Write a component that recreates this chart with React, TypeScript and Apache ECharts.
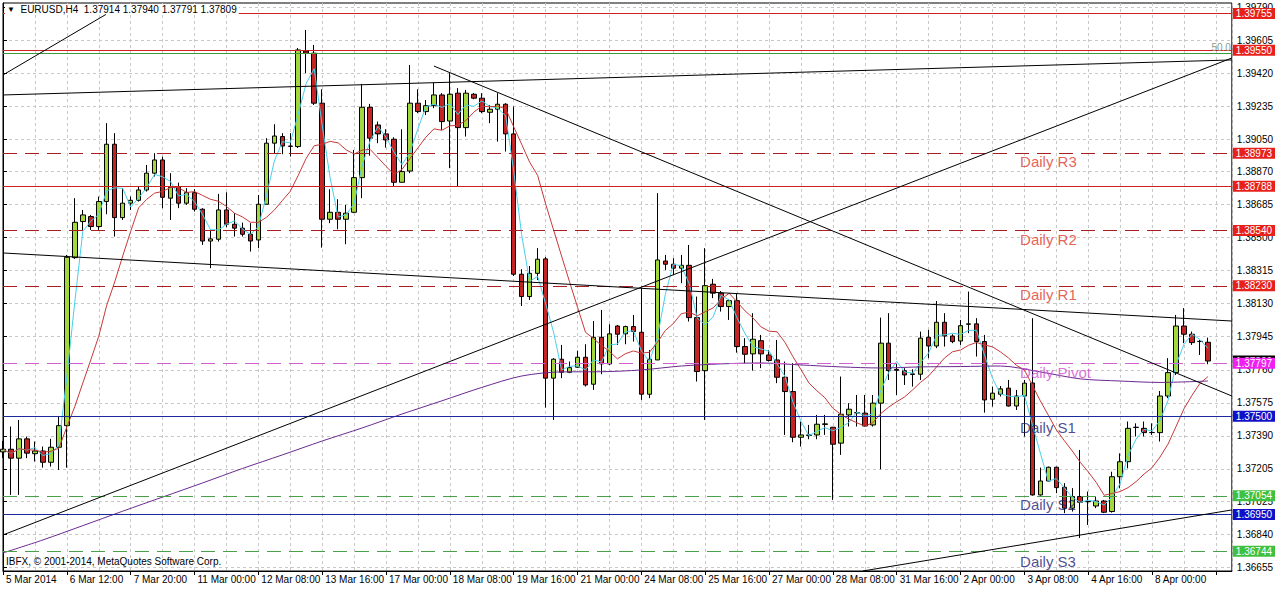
import React, { useEffect, useRef } from 'react';
import * as echarts from 'echarts';

const timeLabels = ['5 Mar 2014','6 Mar 12:00','7 Mar 20:00','11 Mar 00:00','12 Mar 08:00','13 Mar 16:00','17 Mar 00:00','18 Mar 08:00','19 Mar 16:00','21 Mar 00:00','24 Mar 08:00','25 Mar 16:00','27 Mar 00:00','28 Mar 08:00','31 Mar 16:00','2 Apr 00:00','3 Apr 08:00','4 Apr 16:00','8 Apr 00:00'];

const priceTicks = [1.36655,1.36840,1.37025,1.37205,1.37390,1.37575,1.37760,1.37945,1.38130,1.38315,1.38500,1.38685,1.38870,1.39050,1.39235,1.39420,1.39605,1.39790];

const opens = [1.37300,1.37315,1.37265,1.37373,1.37290,1.37305,1.37242,1.37326,1.37447,1.38388,1.38590,1.38618,1.38562,1.38702,1.39023,1.38612,1.38693,1.38709,1.38767,1.38861,1.38935,1.38721,1.38786,1.38693,1.38752,1.38659,1.38481,1.38491,1.38655,1.38575,1.38553,1.38519,1.38487,1.38687,1.39029,1.39066,1.39013,1.39010,1.39545,1.39533,1.39253,1.38603,1.38642,1.38603,1.38642,1.38836,1.39230,1.39131,1.39081,1.39051,1.38810,1.38873,1.39253,1.39206,1.39239,1.39299,1.39153,1.39309,1.39116,1.39303,1.39281,1.39202,1.39219,1.39247,1.39081,1.38295,1.38170,1.38300,1.38381,1.37713,1.37819,1.37746,1.37774,1.37830,1.37679,1.37942,1.37793,1.38005,1.37961,1.38002,1.37970,1.37623,1.37815,1.38369,1.38351,1.38329,1.38345,1.38052,1.37755,1.38239,1.38189,1.38114,1.38147,1.37890,1.37849,1.37923,1.37843,1.37815,1.37718,1.37638,1.37382,1.37392,1.37395,1.37454,1.37438,1.37349,1.37507,1.37518,1.37517,1.37451,1.37573,1.37909,1.37762,1.37755,1.37737,1.37735,1.37942,1.37893,1.38026,1.37949,1.37921,1.38015,1.38017,1.37918,1.37595,1.37623,1.37657,1.37557,1.37613,1.37686,1.37059,1.37137,1.37214,1.37102,1.36985,1.37050,1.37023,1.36997,1.37025,1.36966,1.37161,1.37245,1.37437,1.37432,1.37409,1.37408,1.37613,1.37744,1.38005,1.37959,1.37919,1.37914];

const closes = [1.37315,1.37265,1.37373,1.37293,1.37305,1.37242,1.37326,1.37447,1.38390,1.38586,1.38627,1.38562,1.38702,1.39023,1.38612,1.38693,1.38709,1.38767,1.38861,1.38935,1.38726,1.38782,1.38693,1.38752,1.38659,1.38481,1.38493,1.38655,1.38575,1.38553,1.38519,1.38481,1.38687,1.39029,1.39069,1.39013,1.39011,1.39551,1.39533,1.39253,1.38603,1.38642,1.38603,1.38637,1.38836,1.39230,1.39057,1.39081,1.39047,1.38810,1.38870,1.39253,1.39206,1.39239,1.39299,1.39150,1.39303,1.39116,1.39309,1.39281,1.39206,1.39219,1.39247,1.39081,1.38295,1.38170,1.38300,1.38379,1.37713,1.37819,1.37746,1.37772,1.37830,1.37675,1.37942,1.37793,1.37961,1.37959,1.38002,1.37974,1.37623,1.37819,1.38375,1.38351,1.38329,1.38345,1.38052,1.37750,1.38231,1.38189,1.38114,1.38147,1.37890,1.37847,1.37931,1.37849,1.37812,1.37718,1.37638,1.37382,1.37395,1.37395,1.37455,1.37457,1.37343,1.37511,1.37539,1.37520,1.37445,1.37573,1.37909,1.37755,1.37757,1.37731,1.37734,1.37937,1.37893,1.38026,1.37949,1.37918,1.38007,1.38017,1.37918,1.37591,1.37629,1.37653,1.37557,1.37613,1.37685,1.37059,1.37137,1.37214,1.37100,1.36985,1.37050,1.37018,1.37021,1.37025,1.36962,1.37161,1.37245,1.37432,1.37438,1.37408,1.37408,1.37613,1.37744,1.38005,1.37959,1.37912,1.37918,1.37809];

const lows = [1.37266,1.37059,1.37059,1.37265,1.37246,1.37212,1.37218,1.37199,1.37212,1.38381,1.38543,1.38543,1.38543,1.38631,1.38506,1.38599,1.38655,1.38702,1.38758,1.38842,1.38665,1.38599,1.38665,1.38683,1.38646,1.38459,1.38329,1.38478,1.38558,1.38506,1.38506,1.38422,1.38441,1.38687,1.38973,1.38967,1.38954,1.39002,1.39421,1.39243,1.38444,1.38581,1.38547,1.38463,1.38637,1.38721,1.38959,1.39029,1.39004,1.38786,1.38810,1.38861,1.39197,1.39187,1.39225,1.39103,1.38889,1.38786,1.39066,1.39275,1.39197,1.39141,1.39038,1.38982,1.38285,1.38117,1.38151,1.38263,1.37548,1.37479,1.37713,1.37741,1.37772,1.37666,1.37647,1.37735,1.37787,1.37899,1.37903,1.37918,1.37591,1.37601,1.37815,1.38319,1.38291,1.38245,1.38030,1.37694,1.37479,1.38161,1.38086,1.38039,1.37856,1.37797,1.37755,1.37769,1.37806,1.37685,1.37395,1.37354,1.37330,1.37371,1.37371,1.37395,1.37031,1.37283,1.37442,1.37442,1.37442,1.37442,1.37203,1.37703,1.37619,1.37675,1.37666,1.37703,1.37825,1.37881,1.37890,1.37909,1.37899,1.37965,1.37834,1.37520,1.37554,1.37610,1.37554,1.37535,1.37386,1.37055,1.37055,1.37134,1.37069,1.36957,1.36966,1.36818,1.36891,1.36985,1.36957,1.36960,1.37096,1.37208,1.37386,1.37386,1.37395,1.37358,1.37601,1.37731,1.37909,1.37899,1.37843,1.37791];

const highs = [1.37361,1.37442,1.37479,1.37386,1.37358,1.37330,1.37373,1.37501,1.38403,1.38721,1.38655,1.38627,1.38730,1.39141,1.39085,1.38777,1.38730,1.38789,1.38907,1.38973,1.38954,1.38861,1.38808,1.38777,1.38771,1.38665,1.38543,1.38745,1.38754,1.38637,1.38584,1.38581,1.38739,1.39057,1.39135,1.39085,1.39085,1.39562,1.39663,1.39579,1.39331,1.38771,1.38715,1.38683,1.38991,1.39361,1.39249,1.39150,1.39107,1.39062,1.39107,1.39467,1.39331,1.39271,1.39368,1.39309,1.39421,1.39337,1.39327,1.39309,1.39309,1.39243,1.39309,1.39253,1.39234,1.38323,1.38341,1.38441,1.38392,1.37825,1.37899,1.37806,1.37867,1.37903,1.38033,1.38095,1.38015,1.38011,1.38007,1.38067,1.38217,1.37871,1.38749,1.38403,1.38385,1.38403,1.38459,1.38170,1.38441,1.38269,1.38201,1.38155,1.38189,1.37937,1.38077,1.37955,1.37871,1.37927,1.37806,1.37797,1.37470,1.37451,1.37507,1.37507,1.37440,1.37722,1.37573,1.37619,1.37619,1.37619,1.38052,1.38077,1.37797,1.37769,1.37763,1.37974,1.37983,1.38145,1.38077,1.37959,1.38039,1.38198,1.38049,1.37955,1.37666,1.37669,1.37703,1.37647,1.37703,1.38049,1.37212,1.37218,1.37218,1.37125,1.37097,1.37311,1.37078,1.37050,1.37031,1.37189,1.37292,1.37470,1.37460,1.37470,1.37460,1.37641,1.37825,1.38067,1.38105,1.37974,1.37927,1.37940];

// slow moving average (bar index, price)
const slowMaIdx = [0,5,10,15,20,25,30,35,40,45,50,55,60,65,70,75,80,85,90,95,100,105,110,115,120,125,130,135,140,145,151];
const slowMaVals = [1.36734,1.36807,1.36887,1.36968,1.37047,1.37126,1.37207,1.37283,1.37361,1.37434,1.37512,1.37586,1.37661,1.37725,1.37748,1.37749,1.37759,1.37781,1.37793,1.37798,1.37787,1.37776,1.37770,1.37776,1.37778,1.37781,1.37748,1.37709,1.37697,1.37689,1.37697];

const levelPrices = [1.39755,1.39550,1.38973,1.38788,1.38540,1.38230,1.37809,1.37797,1.37500,1.37054,1.36950,1.36744];
const levelKinds = ['redSolid','redSolid','redDash','redSolid','redDash','redDash','bid','pivot','blueSolid','greenDash','blueSolid','greenDash'];
const fibPrice = 1.39533;

const pivotNames = ['Daily R3','Daily R2','Daily R1','Daily Pivot','Daily S1','Daily S2','Daily S3'];
const pivotTextPrices = [1.38929,1.38487,1.38179,1.37742,1.37434,1.37003,1.36689];
const pivotTextBar = 127.4;

const trendLines = [
  [[0, 1.39411], [12.9, 1.39750]],
  [[0, 1.39299], [154, 1.39495]],
  [[54, 1.39461], [154, 1.37613]],
  [[0, 1.36835], [154, 1.39506]],
  [[0, 1.38414], [154, 1.38033]],
  [[107.75, 1.36633], [154, 1.36975]],
];

const FONT = 'Liberation Sans, Arial, sans-serif';

function sma(vals: number[], n: number) {
  return vals.map((_, i) => {
    const s = Math.max(0, i - n + 1);
    const arr = vals.slice(s, i + 1);
    return arr.reduce((a, b) => a + b, 0) / arr.length;
  });
}

const kindStyle: Record<string, any> = {
  redSolid: { line: { color: '#cc2222', type: 'solid' }, bg: '#e8201a', fg: '#fff' },
  redDash: { line: { color: '#a82020', type: [14, 8] }, bg: '#e8201a', fg: '#fff' },
  pivot: { line: { color: '#d060d0', type: [14, 8] }, bg: '#f020f0', fg: '#fff' },
  blueSolid: { line: { color: '#1a2a9a', type: 'solid' }, bg: '#1010c8', fg: '#fff' },
  greenDash: { line: { color: '#4aa04a', type: [14, 8] }, bg: '#40c040', fg: '#fff' },
  bid: { line: { color: 'rgba(0,0,0,0)', type: 'solid' }, bg: '#000', fg: '#fff' },
};

function pivotColor(name: string) {
  if (name.indexOf('Daily R') === 0) return '#e03a2a';
  if (name === 'Daily Pivot') return '#d050d0';
  return '#1c1c78';
}

export default function App() {
  const ref = useRef<HTMLDivElement>(null);
  useEffect(() => {
    const chart = echarts.init(ref.current!, null, { renderer: 'svg' });
    const candles = opens.map((o, i) => [i, o, closes[i], lows[i], highs[i]]);
    const fast = sma(closes, 3).map((v, i) => [i, v]);
    const mid = sma(closes, 10).map((v, i) => [i, v]);
    const slow = slowMaIdx.map((x, i) => [x, slowMaVals[i]]);

    const levelData: any[] = levelPrices.map((p, i) => {
      const k = kindStyle[levelKinds[i]];
      return {
        yAxis: p,
        lineStyle: { color: k.line.color, type: k.line.type, width: 1 },
        label: {
          show: true, position: 'end', formatter: p.toFixed(5), backgroundColor: k.bg, color: k.fg,
          padding: [1, 3, 0, 3], distance: 1, fontSize: 10, fontFamily: FONT,
        },
      };
    });
    levelData.push({
      yAxis: fibPrice,
      lineStyle: { color: '#3c9a3c', type: 'solid', width: 1 },
      label: { show: true, position: 'insideEndTop', formatter: '50.0', color: '#8a9a8a', fontSize: 10, distance: 1, fontFamily: FONT },
    });

    const option: any = {
      animation: false,
      backgroundColor: '#ffffff',
      textStyle: { fontFamily: FONT },
      title: [
        {
          text: '{t|▼}  EURUSD,H4  1.37914 1.37940 1.37791 1.37809',
          left: 5, top: 4, padding: [0, 2, 0, 2], backgroundColor: '#ffffff',
          textStyle: { fontSize: 10, fontWeight: 'normal', color: '#000', fontFamily: FONT, rich: { t: { fontSize: 8, color: '#000' } } },
        },
        {
          text: 'IBFX, © 2001-2014, MetaQuotes Software Corp.',
          left: 6, top: 556, padding: 0,
          textStyle: { fontSize: 10, fontWeight: 'normal', color: '#000', fontFamily: FONT },
        },
      ],
      grid: { left: 3, right: 42, top: 3, bottom: 18, show: true, borderColor: '#000', borderWidth: 1, backgroundColor: '#fff' },
      xAxis: {
        type: 'value', min: 0, max: 154, interval: 8,
        axisLine: { show: true, lineStyle: { color: '#000' } },
        axisTick: { show: true, length: 4, lineStyle: { color: '#000' } },
        axisLabel: {
          color: '#000', fontSize: 10, align: 'left', margin: 3, padding: [0, 0, 0, 3],
          formatter: (v: number) => timeLabels[Math.round(v / 8)] || '',
          showMaxLabel: false,
        },
        splitLine: { show: true, lineStyle: { color: '#c8c8c8', type: [3, 3] } },
        minorTick: { show: false, splitNumber: 2 },
        minorSplitLine: { show: true, lineStyle: { color: '#c8c8c8', type: [3, 3] } },
      },
      yAxis: {
        type: 'value', position: 'right', min: 1.36633, max: 1.39814, scale: true,
        axisLine: { show: true, lineStyle: { color: '#000' } },
        axisTick: { show: true, length: 4, lineStyle: { color: '#000' }, customValues: priceTicks },
        axisLabel: { color: '#000', fontSize: 10, margin: 5, customValues: priceTicks, formatter: (v: number) => v.toFixed(5) },
        splitLine: { show: true, lineStyle: { color: '#c8c8c8', type: [3, 3] } },
      },
      series: [
        {
          type: 'candlestick', name: 'EURUSD', data: candles, encode: { x: 0, y: [1, 2, 3, 4] },
          barWidth: 5, z: 2,
          itemStyle: { color: '#a2d83c', color0: '#c42424', borderColor: '#000', borderColor0: '#000', borderWidth: 1 },
        },
        { type: 'line', name: 'MA3', data: fast, showSymbol: false, z: 3, lineStyle: { color: '#48d0ec', width: 1 } },
        { type: 'line', name: 'MA10', data: mid, showSymbol: false, z: 3, lineStyle: { color: '#c83838', width: 1 } },
        { type: 'line', name: 'MA slow', data: slow, showSymbol: false, z: 3, smooth: 0.3, lineStyle: { color: '#6a2a90', width: 1 } },
        {
          type: 'line', name: 'levels', data: [], z: 4,
          markLine: { silent: true, precision: 5, symbol: ['none', 'none'], animation: false, data: levelData },
        },
        {
          type: 'line', name: 'trend', data: [], z: 4,
          markLine: {
            silent: true, precision: 5, symbol: ['none', 'none'], animation: false,
            lineStyle: { color: '#000', type: 'solid', width: 1 }, label: { show: false },
            data: trendLines.map((seg) => [{ coord: seg[0] }, { coord: seg[1] }]),
          },
        },
        {
          type: 'scatter', name: 'pivot labels', z: 6, symbolSize: 1, silent: true,
          itemStyle: { color: 'rgba(0,0,0,0)' },
          data: pivotNames.map((n, i) => ({
            value: [pivotTextBar, pivotTextPrices[i]],
            label: { show: true, position: 'right', distance: 0, formatter: n, color: pivotColor(n), fontSize: 15, fontFamily: FONT },
          })),
        },
      ],
    };
    chart.setOption(option);
    return () => chart.dispose();
  }, []);
  return <div ref={ref} style={{ position: 'fixed', left: 0, top: 0, width: 1276, height: 589, background: '#fff' }} />;
}
